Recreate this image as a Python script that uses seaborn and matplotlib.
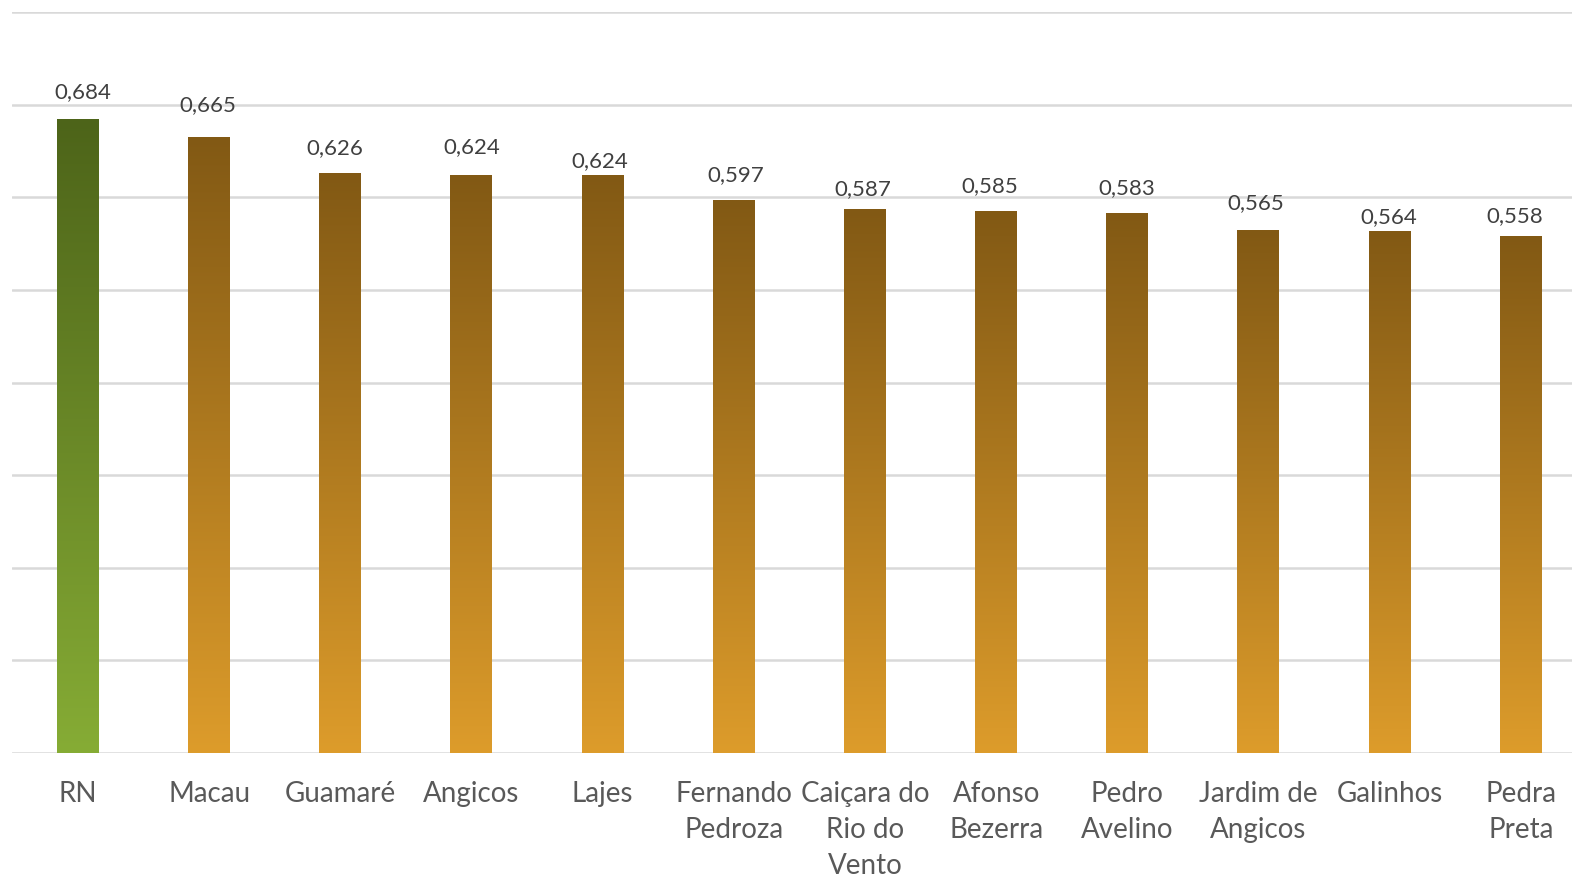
import numpy as np
import pandas as pd
import matplotlib
matplotlib.use("Agg")
import matplotlib.pyplot as plt
import seaborn as sns
from matplotlib.colors import LinearSegmentedColormap

categories = ["RN", "Macau", "Guamaré", "Angicos", "Lajes", "Fernando\nPedroza",
              "Caiçara do\nRio do\nVento", "Afonso\nBezerra", "Pedro\nAvelino",
              "Jardim de\nAngicos", "Galinhos", "Pedra\nPreta"]
values = [0.684, 0.665, 0.626, 0.624, 0.624, 0.597, 0.587, 0.585, 0.583, 0.565, 0.564, 0.558]
labels = ["0,684", "0,665", "0,626", "0,624", "0,624", "0,597", "0,587", "0,585",
          "0,583", "0,565", "0,564", "0,558"]
groups = ["RN"] + ["Mun"] * 11

# label placement offsets (pixels, relative to bar top centre)
label_dx = [5, -1, -6, 0, -3, 2, -2, -6, -1, -3, -1, -6]
label_dy = [27, 32, 25, 28, 14, 25, 20, 25, 25, 27, 14, 20]

sns.set_theme(style="white")
plt.rcParams['font.family'] = ['Lato', 'DejaVu Sans']

df = pd.DataFrame({"cat": categories, "val": values, "grp": groups})

fig = plt.figure(figsize=(15.72, 8.76), dpi=100)
ax = fig.add_axes([12.4/1572, 1-753/876, 1574/1572, (753-12)/876])

sns.barplot(data=df, x="cat", y="val", hue="grp", dodge=False, width=0.32,
            palette={"RN": "#6a8a28", "Mun": "#b07a20"}, legend=False, ax=ax,
            edgecolor="none")

ax.set_ylim(0, 0.8)
ax.set_xlim(-0.5, len(categories) - 0.5)
ax.set_yticks(np.arange(0, 0.81, 0.1))
ax.yaxis.grid(True, color="#d9d9d9", linewidth=1.8)
ax.set_axisbelow(True)
for s in ax.spines.values():
    s.set_visible(False)
ax.set_ylabel("")
ax.set_xlabel("")
ax.tick_params(axis="y", left=False, labelleft=False)
ax.tick_params(axis="x", bottom=False, pad=14.5, labelsize=20, labelcolor="#595959")
for t in ax.get_xticklabels():
    t.set_linespacing(1.46)
    t.set_verticalalignment("top")

cmap_g = LinearSegmentedColormap.from_list("g", ["#86ac35", "#4d6419"])
cmap_o = LinearSegmentedColormap.from_list("o", ["#dd9c2b", "#825914"])
grad = np.linspace(0, 1, 256).reshape(-1, 1)

patches = sorted(ax.patches, key=lambda p: p.get_x())
for p, g in zip(patches, groups):
    x0, w, h = p.get_x(), p.get_width(), p.get_height()
    if h <= 0:
        continue
    cm = cmap_g if g == "RN" else cmap_o
    im = ax.imshow(grad, cmap=cm, aspect="auto", origin="lower",
                   extent=[x0, x0 + w, 0, h], zorder=p.get_zorder())
    im.set_clip_path(p)
    p.set_facecolor("none")

ax.set_xlim(-0.5, len(categories) - 0.5)
ax.set_ylim(0, 0.8)

for i, (v, lab) in enumerate(zip(values, labels)):
    ax.annotate(lab, (i, v), xytext=(label_dx[i] * 0.72, label_dy[i] * 0.72),
                textcoords="offset points", ha="center", va="center",
                fontsize=16, color="#404040")

fig.savefig("out.png", dpi=100)
